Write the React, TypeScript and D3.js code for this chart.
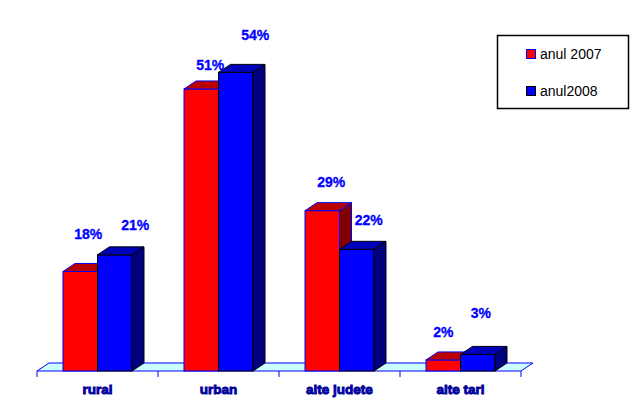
import React from "react";
import * as d3 from "d3";

const categories = ["rural", "urban", "alte judete", "alte tari"];
const seriesNames = ["anul 2007", "anul2008"];
const values2007 = [18, 51, 29, 2];
const values2008 = [21, 54, 22, 3];
// label nudges (dx from bar centre, lift above bar top)
const labelDx = [[8, 20.5], [9, 19.5], [9, 12], [0, 3]];
const labelLift = [[32, 25], [19, 32], [24, 24], [23, 36]];

const W = 636;
const H = 412;
const DX = 12;
const DY = 8;

const front = ["#FF0000", "#0000FF"];
const topC = ["#BB0000", "#0000BB"];
const sideC = ["#800000", "#000080"];
const strokeC = ["#0000FF", "#000000"];

export default function App() {
  const x = d3.scaleBand<string>().domain(categories).range([37, 521]).padding(0);
  const inner = d3
    .scaleBand<number>()
    .domain([0, 1])
    .range([26, 95])
    .padding(0);
  const y = d3.scaleLinear().domain([0, 60]).range([371, 371 - 331.8]);
  const y0 = y(0);
  const series = [values2007, values2008];

  const x0 = x.range()[0];
  const x1 = x.range()[1];

  return (
    <svg
      width={W}
      height={H}
      style={{ position: "absolute", left: 0, top: 0, background: "#fff" }}
      fontFamily="Arial, 'Liberation Sans', sans-serif"
    >
      {/* floor */}
      <polygon
        points={`${x0},${y0} ${x0 + DX},${y0 - DY} ${x1 + DX},${y0 - DY} ${x1},${y0}`}
        fill="#CCFFFF"
        stroke="#0000FF"
        strokeWidth={1}
      />
      {/* ticks */}
      {[...categories.map((c) => x(c)!), x1].map((t, i) => (
        <line key={i} x1={t} x2={t} y1={y0} y2={y0 + 6} stroke="#0000FF" strokeWidth={1} />
      ))}
      {/* bars */}
      {categories.map((c, ci) => (
        <g key={c}>
          {series.map((vals, si) => {
            const bx0 = x(c)! + inner(si)!;
            const bx1 = bx0 + inner.bandwidth();
            const yt = y(vals[ci]);
            return (
              <g key={si}>
                <rect
                  x={bx0}
                  y={yt}
                  width={bx1 - bx0}
                  height={y0 - yt}
                  fill={front[si]}
                  stroke={strokeC[si]}
                  strokeWidth={1}
                />
                <polygon
                  points={`${bx0},${yt} ${bx0 + DX},${yt - DY} ${bx1 + DX},${yt - DY} ${bx1},${yt}`}
                  fill={topC[si]}
                  stroke={strokeC[si]}
                  strokeWidth={1}
                />
                <polygon
                  points={`${bx1},${yt} ${bx1 + DX},${yt - DY} ${bx1 + DX},${y0 - DY} ${bx1},${y0}`}
                  fill={sideC[si]}
                  stroke={strokeC[si]}
                  strokeWidth={1}
                />
              </g>
            );
          })}
        </g>
      ))}
      {/* value labels */}
      {categories.map((c, ci) =>
        series.map((vals, si) => {
          const cx = x(c)! + inner(si)! + inner.bandwidth() / 2 + labelDx[ci][si];
          return (
            <text
              key={`${c}-${si}`}
              x={cx}
              y={y(vals[ci]) - labelLift[ci][si]}
              textAnchor="middle"
              fontSize={14}
              fontWeight="bold"
              fill="#0000FF"
              stroke="#0000FF"
              strokeWidth={0.3}
            >
              {vals[ci]}%
            </text>
          );
        })
      )}
      {/* category labels */}
      {categories.map((c) => (
        <text
          key={c}
          x={x(c)! + x.bandwidth() / 2}
          y={394}
          textAnchor="middle"
          fontSize={13.5}
          fontWeight="bold"
          fill="#0000CC"
          stroke="#000090"
          strokeWidth={0.9}
        >
          {c}
        </text>
      ))}
      {/* legend */}
      <rect x={497.5} y={35.5} width={131} height={73} fill="#fff" stroke="#000" strokeWidth={1.5} />
      {seriesNames.map((n, i) => (
        <g key={n}>
          <rect
            x={526.5}
            y={49.5 + i * 37}
            width={9}
            height={9}
            fill={front[i]}
            stroke={strokeC[i]}
            strokeWidth={1}
          />
          <text x={540} y={59 + i * 37} fontSize={14} fill="#000">
            {n}
          </text>
        </g>
      ))}
    </svg>
  );
}
